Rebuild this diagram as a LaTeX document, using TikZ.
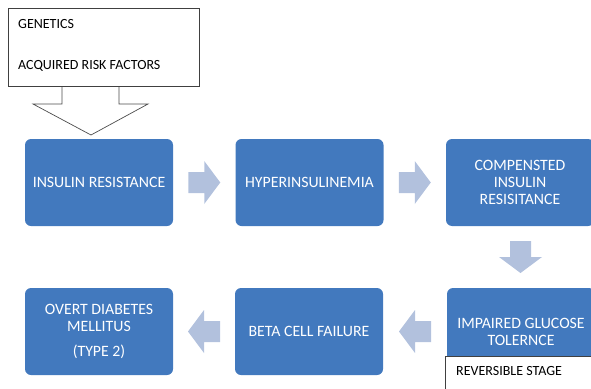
\documentclass[tikz,border=0pt]{standalone}
\usepackage{fontspec}
\setmainfont{Carlito}
\usetikzlibrary{calc}

\definecolor{boxblue}{HTML}{4279BE}
\definecolor{arrowblue}{HTML}{B2C1DD}

\tikzset{
    stage/.style={fill=boxblue, rounded corners=6pt, minimum width=148pt,
        minimum height=87pt, inner sep=0pt, text=white, align=center,
        font=\fontsize{15.8}{17}\selectfont},
    note/.style={draw=black!75, fill=white, line width=0.8pt, anchor=north west},
    notetext/.style={anchor=base west, inner sep=0pt, font=\fontsize{14}{16}\selectfont},
    outline/.style={draw=black!70, fill=white, line width=0.7pt},
    flowarrow/.pic={
        \fill[arrowblue] (-16,-10.5) -- (0,-10.5) -- (0,-21.5) -- (16,0)
            -- (0,21.5) -- (0,10.5) -- (-16,10.5) -- cycle;
    }
}

\begin{document}
\begin{tikzpicture}[x=1pt, y=-1pt]
    % 1. Canvas and clipping
    \useasboundingbox (0,0) rectangle (591,388);
    \clip (0,0) rectangle (591,388);

    % 2. Outline arrow below the risk box
    \draw[outline] (62,86) -- (62,104) -- (33,104) -- (91,135)
        -- (148,104) -- (119,104) -- (119,86);

    % 3. Risk factor box
    \node[note, minimum width=191pt, minimum height=78pt] (risk) at (8,8) {};
    \node[notetext] (genetics) at ($(risk.north west)+(10,20)$) {GENETICS};
    \node[notetext] (acquired) at ($(risk.north west)+(10,61)$) {ACQUIRED RISK FACTORS};

    % 4. Stages, upper row
    \node[stage] (insulin) at (99,182.5) {INSULIN RESISTANCE};
    \node[stage] (hyper) at (309.5,182.5) {HYPERINSULINEMIA};
    \node[stage] (compensated) at (520,182.5) {COMPENSTED\\INSULIN\\RESISITANCE};

    % 5. Stages, lower row
    \node[stage] (impaired) at (521,331.5) {IMPAIRED GLUCOSE\\TOLERNCE};
    \node[stage] (beta) at (309,331.5) {BETA CELL FAILURE};
    \node[stage] (overt) at (99,331.5) {OVERT DIABETES\\MELLITUS\\[8pt](TYPE 2)};

    % 6. Block arrows between the stages
    \pic at ($(insulin.east)!0.5!(hyper.west)$) {flowarrow};
    \pic at ($(hyper.east)!0.5!(compensated.west)$) {flowarrow};
    \pic[rotate=-90] at ($(compensated.south)!0.5!(impaired.north)$) {flowarrow};
    \pic[rotate=180] at ($(impaired.west)!0.5!(beta.east)$) {flowarrow};
    \pic[rotate=180] at ($(beta.west)!0.5!(overt.east)$) {flowarrow};

    % 7. Note under the impaired glucose box
    \node[note, minimum width=160pt, minimum height=40pt] (stagebox) at (445,356) {};
    \node[notetext] (reversible) at ($(stagebox.north west)+(11,19)$) {REVERSIBLE STAGE};

\end{tikzpicture}
\end{document}
